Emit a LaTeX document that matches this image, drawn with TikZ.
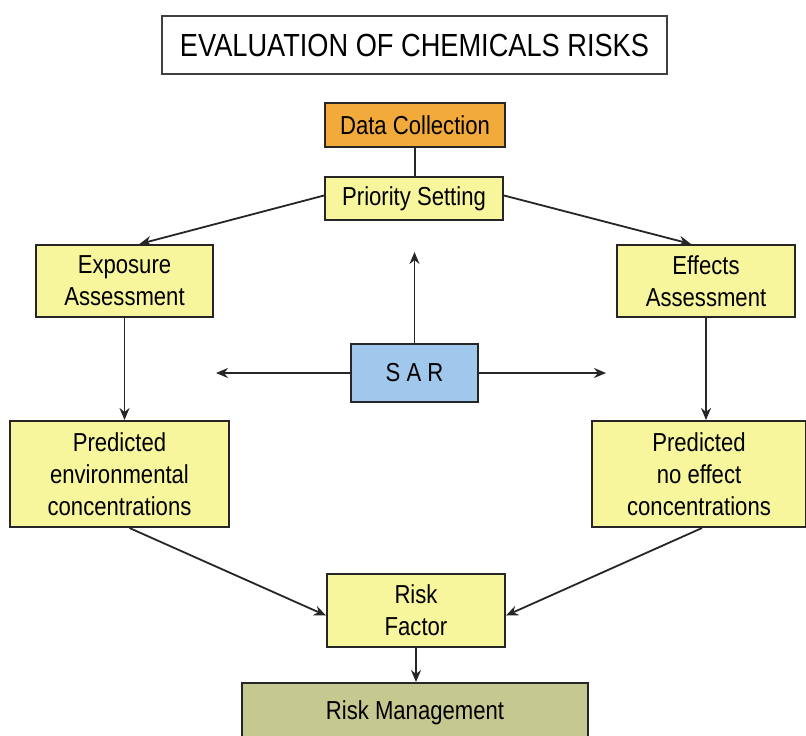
\documentclass[tikz,border=0pt]{standalone}
\usepackage{fontspec}
\setmainfont[FakeStretch=0.85]{Liberation Sans}
\usetikzlibrary{arrows.meta, calc}
\definecolor{collectOrange}{HTML}{F2AA3A}
\definecolor{stepYellow}{HTML}{F7F69C}
\definecolor{sarBlue}{HTML}{9FC8EC}
\definecolor{manageOlive}{HTML}{C6C98F}
\definecolor{boxLine}{HTML}{262626}

\begin{document}
\begin{tikzpicture}[x=0.5pt, y=-0.5pt,
  box/.style={draw=boxLine, line width=1pt, align=center, inner sep=2pt, font=\fontsize{13}{16}\selectfont},
  stage/.style={box, fill=stepYellow},
  flow/.style={-{Stealth[length=6pt, width=5pt]}, line width=0.9pt, draw=boxLine}]
  \useasboundingbox (0,0) rectangle (806,735);
  \fill[white] (0,0) rectangle (806,735);

  % heading
  \node[box, draw=black!75, line width=0.8pt, fill=white, minimum width=252.5pt, minimum height=29pt, font=\fontsize{16}{19}\selectfont] (title) at (414.5,45) {EVALUATION OF CHEMICALS RISKS};

  % top of the chain
  \node[box, fill=collectOrange, minimum width=90pt, minimum height=22pt] (collect) at (415,125) {Data Collection};
  \node[stage, minimum width=89pt, minimum height=21.5pt] (priority) at (414,198.5) {Priority Setting};

  % both branches
  \node[stage, minimum width=88.5pt, minimum height=36pt] (expo) at (124.5,281) {Exposure\\Assessment};
  \node[stage, minimum width=89pt, minimum height=36pt] (effects) at (706,281) {Effects\\Assessment};
  \node[stage, minimum width=109.5pt, minimum height=53pt] (pec) at (119.5,474) {Predicted\\environmental\\concentrations};
  \node[stage, minimum width=107pt, minimum height=53pt] (pnec) at (699,474) {Predicted\\no effect\\concentrations};

  % SAR in the middle
  \node[box, fill=sarBlue, minimum width=63.5pt, minimum height=29pt] (sar) at (414.5,373) {S A R};
  \coordinate (sarUp) at (414.5,252);
  \coordinate (sarLeft) at (216,373);
  \coordinate (sarRight) at (606,373);

  % bottom
  \node[stage, minimum width=89pt, minimum height=36.5pt] (risk) at (416,610.5) {Risk\\Factor};
  \node[box, fill=manageOlive, minimum width=173pt, minimum height=30pt] (manage) at (415,713) {Risk Management};

  % connectors
  \draw[line width=0.9pt, draw=boxLine] (collect.south) -- (collect.south |- priority.north);
  \draw[flow] ($(priority.west)+(0,-3)$) -- (expo.68);
  \draw[flow] ($(priority.east)+(0,-3)$) -- (effects.112);
  \draw[flow] (expo.south) -- (expo.south |- pec.north);
  \draw[flow] (effects.south) -- (effects.south |- pnec.north);
  \draw[flow] (sar) -- (sarUp);
  \draw[flow] (sar) -- (sarLeft);
  \draw[flow] (sar) -- (sarRight);
  \draw[flow] ($(pec.south)+(10,0)$) -- ($(risk.west)+(0,5)$);
  \draw[flow] ($(pnec.south)+(3,0)$) -- ($(risk.east)+(0,5)$);
  \draw[flow] (risk) -- (risk |- manage.north);
\end{tikzpicture}
\end{document}
